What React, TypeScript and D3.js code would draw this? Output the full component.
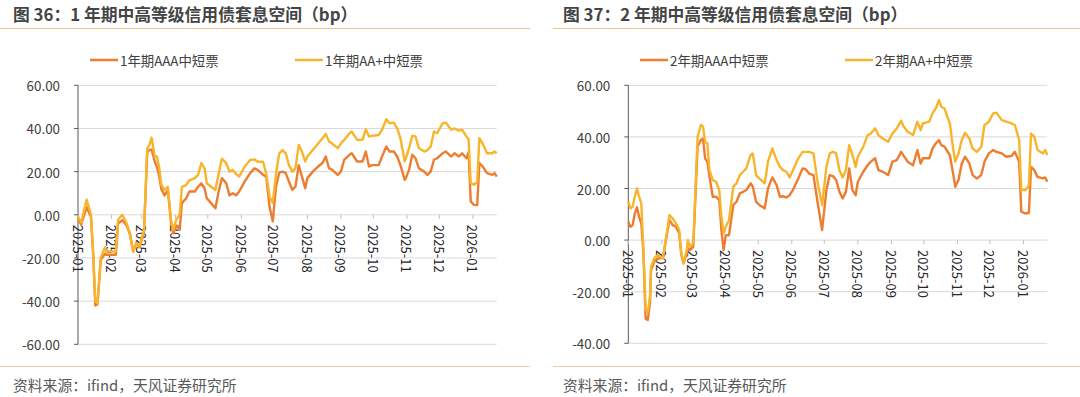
import React from "react";
import * as d3 from "d3";

// 图36 1年期
const leftDates = [
  "2025-01-01","2025-01-04","2025-01-09","2025-01-13","2025-01-15","2025-01-17","2025-01-19","2025-01-22","2025-01-26","2025-01-27",
  "2025-02-05","2025-02-07","2025-02-11","2025-02-15","2025-02-18","2025-02-21","2025-02-24","2025-02-27",
  "2025-03-03","2025-03-06","2025-03-08","2025-03-10","2025-03-13","2025-03-15","2025-03-17","2025-03-19","2025-03-22","2025-03-25","2025-03-28","2025-03-30",
  "2025-04-02","2025-04-05","2025-04-07","2025-04-11","2025-04-14","2025-04-19","2025-04-22","2025-04-25","2025-04-28","2025-04-30",
  "2025-05-04","2025-05-08","2025-05-11","2025-05-14","2025-05-18","2025-05-21","2025-05-24","2025-05-27","2025-05-30",
  "2025-06-04","2025-06-09","2025-06-13","2025-06-16","2025-06-21","2025-06-24","2025-06-27","2025-06-30",
  "2025-07-03","2025-07-06","2025-07-09","2025-07-12","2025-07-15","2025-07-18","2025-07-21","2025-07-24","2025-07-27","2025-07-30",
  "2025-08-01","2025-08-06","2025-08-11","2025-08-15","2025-08-18","2025-08-21","2025-08-24","2025-08-29",
  "2025-09-01","2025-09-04","2025-09-09","2025-09-11","2025-09-13","2025-09-16","2025-09-21","2025-09-24","2025-09-27","2025-09-30",
  "2025-10-06","2025-10-09","2025-10-13","2025-10-16","2025-10-20","2025-10-23","2025-10-26","2025-10-30","2025-10-31",
  "2025-11-03","2025-11-06","2025-11-09","2025-11-12","2025-11-17","2025-11-20","2025-11-23","2025-11-26","2025-11-29",
  "2025-12-04","2025-12-07","2025-12-12","2025-12-15","2025-12-19","2025-12-22","2025-12-26","2025-12-28","2025-12-30",
  "2026-01-02","2026-01-05","2026-01-07","2026-01-10","2026-01-14","2026-01-19","2026-01-21","2026-01-23",
];
const leftAAA = [
  -2,-4.5,3.5,-1,-18,-42,-41.5,-21,-18,-18.5,
  -18.5,-4,-2.5,-5,-9,-17,-13,-15,
  -8,29,30,30.3,24.6,22,18,12,9,11.5,-3.8,-8.5,
  -5,-7,5.4,7.7,10.8,10.8,13,14.6,12.3,7.7,
  5.4,3,10.8,17,14.6,9,10,9,10.8,
  15.4,19.2,21.5,20.8,18.5,17.7,3.8,-3,
  13,19.5,20,19.3,15.4,11.6,13,23,17.7,12.3,
  17,20,22.4,24,27,21.6,20.8,18.5,
  20,25.5,27.8,28.5,27,24.7,24.7,29.3,22.4,23,
  23,27,31.6,29.3,29.3,27,23,16.2,17,
  20.8,27.8,26.2,21.6,20,18.5,20,25.5,26.2,
  28.5,29.3,27,28.5,27,28.5,26.2,29,6.2,
  4.6,4.5,24,22.4,19.3,18.5,19.3,17.7,
];
const leftAAplus = [
  -0.8,-3.5,7,0,-17,-40,-41,-20,-15,-17,
  -17,-2.3,0,-4,-8.5,-17,-13,-14.5,
  -7,30.8,32.3,35.8,27,27,22,14,11.5,13,-2.3,-7,
  -2,0,13,13.8,16,17,18.5,24,21.5,14.6,
  13,11.5,19,26,24,20,20.8,19,17.7,
  22.3,25.4,25.7,24.6,24.6,19,8.5,5.4,
  19,28.5,30,28.5,23,20,21.6,32.4,29.3,24.7,
  27,30,33,35.5,37.5,34,33,30.9,
  33,34.7,37.8,38.6,37,34.7,34.7,39.7,36.3,36.6,
  37,39.4,44.3,42.4,42.7,40,35.5,24.7,26.2,
  30.9,36.6,36.3,30.9,29.3,30,31.6,38.6,37.8,
  42.4,42.7,39.4,40,39,39.4,36.3,35,14.7,
  13.9,15.4,35.5,33,28.5,28.5,29.3,28.5,
];

// 图37 2年期
const rightDates = [
  "2025-01-01","2025-01-03","2025-01-05","2025-01-07","2025-01-09","2025-01-11","2025-01-13","2025-01-15","2025-01-17","2025-01-19","2025-01-21","2025-01-22","2025-01-25","2025-01-28",
  "2025-02-02","2025-02-05","2025-02-08","2025-02-11","2025-02-14","2025-02-17","2025-02-19","2025-02-21","2025-02-24","2025-02-25","2025-02-27",
  "2025-03-02","2025-03-06","2025-03-09","2025-03-11","2025-03-13","2025-03-15","2025-03-17","2025-03-20","2025-03-23","2025-03-26","2025-03-28","2025-03-30",
  "2025-04-01","2025-04-04","2025-04-08","2025-04-11","2025-04-14","2025-04-17","2025-04-20","2025-04-24","2025-04-26","2025-04-29",
  "2025-05-02","2025-05-07","2025-05-10","2025-05-14","2025-05-18","2025-05-21","2025-05-24","2025-05-27","2025-05-30",
  "2025-06-02","2025-06-07","2025-06-11","2025-06-14","2025-06-17","2025-06-21","2025-06-25","2025-06-29",
  "2025-07-03","2025-07-06","2025-07-09","2025-07-12","2025-07-15","2025-07-18","2025-07-21","2025-07-24","2025-07-27","2025-07-30",
  "2025-08-01","2025-08-06","2025-08-10","2025-08-13","2025-08-17","2025-08-20","2025-08-24","2025-08-29",
  "2025-09-02","2025-09-06","2025-09-10","2025-09-12","2025-09-16","2025-09-21","2025-09-25","2025-09-28","2025-09-30",
  "2025-10-06","2025-10-09","2025-10-12","2025-10-15","2025-10-17","2025-10-20","2025-10-25","2025-10-28","2025-10-30",
  "2025-11-02","2025-11-05","2025-11-08","2025-11-12","2025-11-15","2025-11-19","2025-11-23","2025-11-26","2025-11-30",
  "2025-12-04","2025-12-07","2025-12-12","2025-12-16","2025-12-21","2025-12-24","2025-12-28","2025-12-30",
  "2026-01-03","2026-01-06","2026-01-08","2026-01-11","2026-01-14","2026-01-19","2026-01-21","2026-01-23",
];
const rightAAA = [
  7.1,5.2,5.8,10.3,12.7,9,6.5,-5,-30.4,-31,-24.5,-11.6,-8.4,-7.1,
  -7,0.6,7.8,5.8,5.2,2.6,-5.8,-9,-5.2,-3.2,-3.9,
  -2.6,36.2,38.8,39.4,31.6,30.4,24.5,16.8,16.8,15.5,3.9,-3.9,
  1.9,1.9,13.6,14.9,18.1,18.7,19.4,22,20.7,14.9,
  13.6,12.3,20,24.3,21.3,16.8,17,16.5,17.4,
  19.4,23.9,27.8,27.4,25.8,25.2,14.2,3.9,
  19.4,25.2,24.8,23.3,18.7,16.1,18.7,27.8,19.4,17.4,
  22.6,26.5,29,30.4,31.7,27.1,26.5,25.2,
  30.4,31,34.2,32.9,30.4,29,34.9,29.7,31.7,
  31.7,35.5,37.5,38.8,36.8,36.2,32.9,25.8,20.7,
  23.3,29.7,32.3,29.7,25.2,23.9,25.2,30.4,33.6,
  34.9,34.2,33.6,32.3,32.6,34.2,30.4,11,
  10.3,10.6,28.4,27.1,24.5,23.9,24.3,22.6,
];
const rightAAplus = [
  14.9,12.3,12.9,16.8,20,16.8,14.2,-3.9,-27,-28,-22,-10.3,-7,-5.8,
  -7,1.3,9.7,8.4,6.5,3.9,-5.2,-9,-3.9,0,-2.6,
  -1.3,40,44.6,44,38,37.5,27,23.3,22.6,19.4,9,2.6,
  5.2,7.8,20.7,22,25.2,26.5,27.8,33,33.6,25.2,
  23.9,22,30.4,35.5,31,28.4,27.1,26.5,24.3,
  27,31.7,34.2,34.2,34.2,33.6,22,13.6,
  28.4,33.6,34.2,33.6,27.1,24.3,27.1,36.8,33,28.4,
  32.3,36.2,40.7,41.3,43.3,40.7,39.4,38.1,
  41.3,43.3,46.3,44.2,42,40.7,45.9,42.6,45.2,
  45.9,49.1,51,54.3,51.7,51,45.2,35.5,30.4,
  33.6,38.8,41.6,39.4,35.5,34.2,36.2,44.6,45.9,
  49.1,49.4,46.5,45.9,45.2,44.6,38.8,19.4,
  19.4,21.3,41.3,40,34.9,33.6,34.9,33,
];

const leftYTicks = [60, 40, 20, 0, -20, -40, -60];
const rightYTicks = [60, 40, 20, 0, -20, -40];

const COLOR_AAA = "#ED7D31";
const COLOR_AAP = "#F7B52C";
const FONT = "'Noto Sans CJK SC', 'Noto Sans', sans-serif";

const parse = d3.utcParse("%Y-%m-%d");
const xStart = parse("2025-01-01") as Date;
const xEnd = parse("2026-01-23") as Date;
const monthTicks = d3.utcMonth.range(xStart, d3.utcDay.offset(xEnd, 1));
const fmtMonth = d3.utcFormat("%Y-%m");

function Panel(props: any) {
  const { title, names, dates, aaa, aap, left, right, top, bottom, yTicks, legendX, titleX, ruleX0, ruleX1 } = props;
  const x = d3.scaleUtc().domain([xStart, xEnd]).range([left, right]);
  const y = d3.scaleLinear().domain([yTicks[yTicks.length - 1], yTicks[0]]).range([bottom, top]);
  const parsed = dates.map((d: string) => parse(d));
  const line = (vals: number[]) =>
    d3.line<number>().x((_, i) => x(parsed[i])).y((v) => y(v))(vals) || "";
  const y0 = y(0);

  return (
    <g fontFamily={FONT}>
      <text x={titleX} y={21} fontSize={16.8} fontWeight="bold" fill="#444">{title}</text>
      <line x1={ruleX0} x2={ruleX1} y1={28.5} y2={28.5} stroke="#EBC08E" strokeWidth={1} />

      {/* legend */}
      {[0, 1].map((k) => (
        <g key={k}>
          <line x1={legendX[k]} x2={legendX[k] + 28} y1={60} y2={60} stroke={k === 0 ? COLOR_AAA : COLOR_AAP} strokeWidth={2.5} />
          <text x={legendX[k] + 30} y={60} dominantBaseline="central" fontSize={13.4} fill="#404040">{names[k]}</text>
        </g>
      ))}

      {/* grid */}
      {yTicks.map((t: number) => (
        <g key={t}>
          <line x1={left} x2={right} y1={y(t)} y2={y(t)} stroke="#D9D9D9" strokeWidth={1} />
          <line x1={left - 4} x2={left} y1={y(t)} y2={y(t)} stroke="#595959" strokeWidth={1} />
          <text x={left - 18} y={y(t)} textAnchor="end" dominantBaseline="central" fontSize={13.4} fill="#404040">
            {t.toFixed(2)}
          </text>
        </g>
      ))}
      <line x1={left} x2={left} y1={top} y2={bottom} stroke="#595959" strokeWidth={1} />

      {/* x axis at zero */}
      {monthTicks.map((m) => (
        <g key={+m}>
          <line x1={x(m)} x2={x(m)} y1={y0} y2={y0 + 4} stroke="#BFBFBF" strokeWidth={1} />
          <text
            transform={`translate(${x(m)},${y0 + 10}) rotate(90)`}
            dominantBaseline="central"
            fontSize={13}
            fill="#262626"
          >
            {fmtMonth(m)}
          </text>
        </g>
      ))}

      <path d={line(aaa)} fill="none" stroke={COLOR_AAA} strokeWidth={2.4} strokeLinejoin="round" />
      <path d={line(aap)} fill="none" stroke={COLOR_AAP} strokeWidth={2.4} strokeLinejoin="round" />

      <line x1={ruleX0} x2={ruleX1} y1={366.5} y2={366.5} stroke="#F4C9A6" strokeWidth={1} />
      <text x={titleX} y={384} dominantBaseline="central" fontSize={14.8} fill="#595959">资料来源：ifind，天风证券研究所</text>
    </g>
  );
}

export default function App() {
  return (
    <div style={{ position: "absolute", left: 0, top: 0 }}>
      <svg width={1080} height={397} style={{ display: "block", background: "#fff" }}>
        <Panel
          title="图 36：1 年期中高等级信用债套息空间（bp）"
          names={["1年期AAA中短票", "1年期AA+中短票"]}
          dates={leftDates}
          aaa={leftAAA}
          aap={leftAAplus}
          left={78}
          right={496.7}
          top={85.3}
          bottom={344.3}
          yTicks={leftYTicks}
          legendX={[90, 295]}
          titleX={13}
          ruleX0={0}
          ruleX1={530}
        />
        <Panel
          title="图 37：2 年期中高等级信用债套息空间（bp）"
          names={["2年期AAA中短票", "2年期AA+中短票"]}
          dates={rightDates}
          aaa={rightAAA}
          aap={rightAAplus}
          left={628.3}
          right={1047.3}
          top={85.3}
          bottom={343.3}
          yTicks={rightYTicks}
          legendX={[640, 845]}
          titleX={563}
          ruleX0={553}
          ruleX1={1080}
        />
      </svg>
    </div>
  );
}
